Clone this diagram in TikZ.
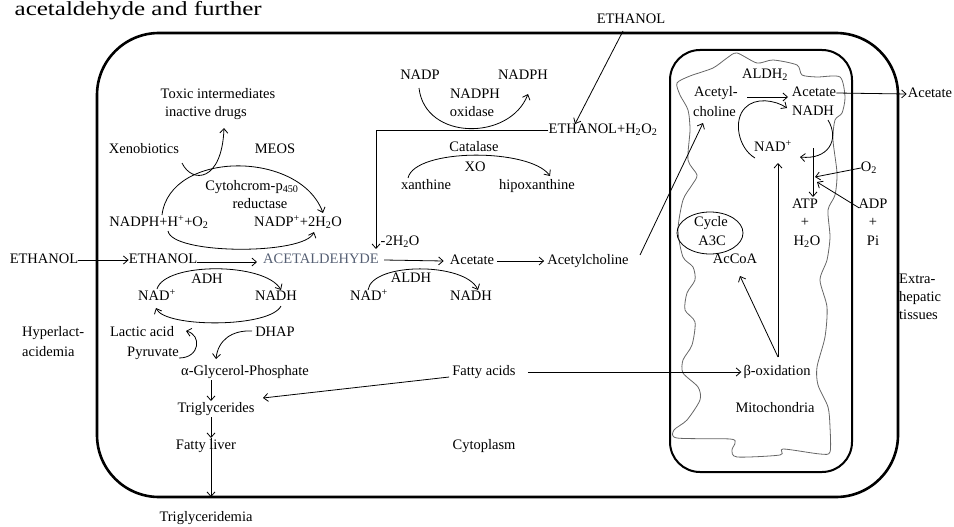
\documentclass[tikz,border=0pt]{standalone}
\usepackage{fontspec}
\setmainfont{Liberation Serif}
\usetikzlibrary{arrows.meta}
\begin{document}
\begin{tikzpicture}[x=1pt,y=-1pt,
  lbl/.style={inner sep=0pt, font=\fontsize{14.5}{18}\selectfont, text height=10pt, text depth=3pt},
  con/.style={line width=0.8pt, -{Straight Barb[length=4.5pt,width=8pt]}},
  ln/.style={line width=0.8pt},
  cell/.style={line width=2.6pt, rounded corners=62pt},
  mitobox/.style={line width=2pt, rounded corners=30pt},
  membrane/.style={line width=0.8pt, draw=black!60},
  acal/.style={lbl, text={rgb,255:red,85;green,95;blue,115}}
]
\useasboundingbox (0,0) rectangle (954,527);
\node[anchor=north east, inner sep=0pt, font=\fontsize{20}{20}\selectfont, xscale=1.25] (frag) at (262,1) {acetaldehyde and further};

% compartments
\draw[cell] (97,33) rectangle (898,497);
\draw[mitobox] (670,50) rectangle (852,472);
\draw[membrane] plot[smooth cycle, tension=0.45] coordinates {
(677,83) (690,76) (713,68) (727,58) (737,53) (757,63) (773,60) (797,65) (802,75) (817,77) (840,77) (845,97) (842,113) (835,120) (833,140) (837,173) (835,195) (828,210) (830,237) (827,260) (820,280) (827,307) (825,337) (817,367) (818,385) (828,407) (830,427) (830,452) (820,454) (783,449) (780,455) (737,457) (732,450) (735,443) (730,439) (677,438) (674,430) (687,420) (700,400) (698,387) (683,373) (683,360) (692,345) (695,322) (685,310) (687,293) (695,280) (693,267) (683,257) (678,230) (683,200) (692,185) (697,175) (688,160) (690,130) (688,110) (680,95)};

% cytoplasm labels
\node[lbl] (tox1) at (218,95) {Toxic intermediates};
\node[lbl] (tox2) at (206,113) {inactive drugs};
\node[lbl] (xeno) at (144,150) {Xenobiotics};
\node[lbl] (meos) at (275,150) {MEOS};
\node[lbl] (cyt) at (252,187) {Cytohcrom-p\textsubscript{450}};
\node[lbl] (red) at (260,205) {reductase};
\node[lbl] (nadphh) at (159,223) {NADPH+H\textsuperscript{+}+O\textsubscript{2}};
\node[lbl] (nadpp) at (298,223) {NADP\textsuperscript{+}+2H\textsubscript{2}O};
\node[lbl] (eth0) at (44,260) {ETHANOL};
\node[lbl] (eth1) at (163,260) {ETHANOL};
\node[acal] (acal) at (321,260) {ACETALDEHYDE};
\node[lbl] (mh2o) at (400,242) {-2H\textsubscript{2}O};
\node[lbl] (acet) at (472,261) {Acetate};
\node[lbl] (ach) at (588,261) {Acetylcholine};
\node[lbl] (adh) at (207,280) {ADH};
\node[lbl] (nad1) at (157,297) {NAD\textsuperscript{+}};
\node[lbl] (nadh1) at (276,297) {NADH};
\node[lbl] (aldh) at (411,279) {ALDH};
\node[lbl] (nad2) at (369,297) {NAD\textsuperscript{+}};
\node[lbl] (nadh2) at (471,297) {NADH};
\node[lbl] (lac) at (142,333) {Lactic acid};
\node[lbl] (pyr) at (153,353) {Pyruvate};
\node[lbl] (dhap) at (275,333) {DHAP};
\node[lbl, anchor=west] (hyp1) at (22,333) {Hyperlact-};
\node[lbl, anchor=west] (hyp2) at (22,353) {acidemia};
\node[lbl] (agp) at (245,372) {α-Glycerol-Phosphate};
\node[lbl] (fa) at (484,372) {Fatty acids};
\node[lbl] (tg) at (216,409) {Triglycerides};
\node[lbl] (fl) at (206,446) {Fatty liver};
\node[lbl] (cyto) at (484,446) {Cytoplasm};
\node[lbl] (tgd) at (206,518) {Triglyceridemia};
\node[lbl] (ethtop) at (631,20) {ETHANOL};
\node[lbl] (ethh) at (603,130) {ETHANOL+H\textsubscript{2}O\textsubscript{2}};
\node[lbl] (nadp) at (420,76) {NADP};
\node[lbl] (nadph) at (523,76) {NADPH};
\node[lbl] (nox1) at (475,95) {NADPH};
\node[lbl] (nox2) at (472,113) {oxidase};
\node[lbl] (cat) at (474,148) {Catalase};
\node[lbl] (xo) at (475,168) {XO};
\node[lbl] (xan) at (426,186) {xanthine};
\node[lbl] (hipo) at (537,186) {hipoxanthine};

% mitochondria labels
\node[lbl] (aldh2) at (765,75) {ALDH\textsubscript{2}};
\node[lbl, anchor=west] (acy1) at (694,93) {Acetyl-};
\node[lbl, anchor=west] (acy2) at (693,113) {choline};
\node[lbl] (acm) at (814,93) {Acetate};
\node[lbl] (nadhm) at (813,112) {NADH};
\node[lbl] (nadm) at (773,148) {NAD\textsuperscript{+}};
\node[lbl] (o2) at (869,168) {O\textsubscript{2}};
\node[lbl] (atp) at (805,205) {ATP};
\node[lbl] (plus1) at (805,223) {+};
\node[lbl] (h2om) at (807,242) {H\textsubscript{2}O};
\node[lbl] (adp) at (873,205) {ADP};
\node[lbl] (plus2) at (873,223) {+};
\node[lbl] (pi) at (873,242) {Pi};
\node[lbl] (cyc1) at (711,223) {Cycle};
\node[lbl] (cyc2) at (712,242) {A3C};
\draw[ln] (710,233) ellipse [x radius=33, y radius=21];
\node[lbl] (accoa) at (735,260) {AcCoA};
\node[lbl] (box) at (777,372) {β-oxidation};
\node[lbl] (mito) at (775,409) {Mitochondria};
\node[lbl, anchor=west] (ex1) at (899,280) {Extra-};
\node[lbl, anchor=west] (ex2) at (899,298) {hepatic};
\node[lbl, anchor=west] (ex3) at (899,316) {tissues};
\node[lbl] (acout) at (930,94) {Acetate};

% connectors
\draw[con] (eth0.east) -- (eth1.west);
\draw[con] ([yshift=-2pt]eth1.east) -- ([xshift=-6pt,yshift=-2pt]acal.west);
\draw[con] (157,289) .. controls (165,262) and (265,262) .. (281,290);
\draw[con] (281,306) .. controls (270,328) and (165,328) .. (156,308);
\draw[con] (182,163) .. controls (192,184) and (222,182) .. (224,128);
\draw[con] (162,215) .. controls (170,150) and (300,150) .. (323,213);
\draw[con] (168,231) .. controls (172,255) and (305,255) .. (314,232);
\draw[con] (419,88) .. controls (425,141) and (510,141) .. (528,94);
\draw[con] (408,178) .. controls (415,148) and (530,148) .. (550,176);
\coordinate (ethfoot) at (623,31);
\draw[con] (ethfoot) -- (575,124);
\coordinate (elbow) at (376,130);
\draw[con] (ethh.west) -- (elbow) -- (376,249);
\draw[con] ([xshift=5pt]acal.east) -- ([xshift=-6pt]acet.west);
\draw[con] ([xshift=3pt]acet.east) -- ([xshift=-3pt]ach.west);
\draw[con] (368,290) .. controls (372,262) and (465,262) .. (478,290);
\draw[con] (640,255) -- (703,123);
\draw[con] (179,358) .. controls (200,358) and (202,335) .. (186,331);
\draw[con] (252,331) .. controls (232,330) and (218,340) .. (216,359);
\draw[con] (211,380) -- (211,401);
\draw[con] (211,417) -- (211,438);
\coordinate (tgdtop) at (211,497);
\draw[con] (211,438) -- (tgdtop);
\draw[con] ([xshift=-3pt,yshift=-5pt]fa.west) -- (263,398);
\draw[con] ([xshift=12pt]fa.east) -- ([xshift=-2pt]box.west);
\coordinate (bstart) at (778,357);
\draw[con] (bstart) -- (740,276);
\draw[con] (bstart) -- (778,163);
\draw[con] (747,97) -- (788,97);
\draw[con] (755,158) .. controls (738,148) and (733,120) .. (745,108) .. controls (755,97) and (775,100) .. (787,108);
\draw[con] (828,120) .. controls (840,140) and (828,160) .. (800,157);
\draw[con] (813,148) -- (813,197);
\draw[con] (o2.west) -- (815,177);
\draw[con] ([xshift=1pt,yshift=-3pt]adp.west) -- (817,182);
\draw[con] (acm.east) -- ([xshift=-1pt]acout.west);
\end{tikzpicture}
\end{document}
